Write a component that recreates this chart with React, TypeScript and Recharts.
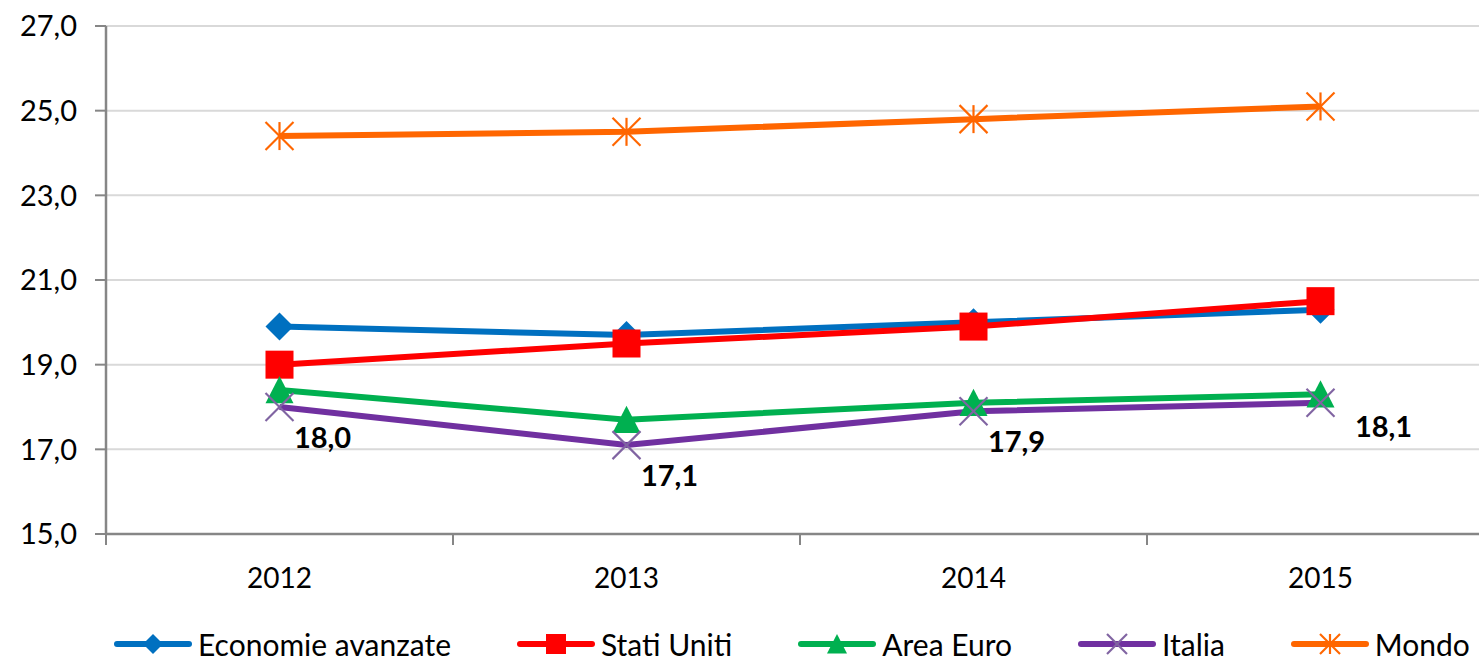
import { CartesianGrid, LabelList, Line, LineChart, XAxis, YAxis } from "recharts";

const years = ["2012", "2013", "2014", "2015"];
const economieAvanzate = [19.9, 19.7, 20.0, 20.3];
const statiUniti = [19.0, 19.5, 19.9, 20.5];
const areaEuro = [18.4, 17.7, 18.1, 18.3];
const italia = [18.0, 17.1, 17.9, 18.1];
const mondo = [24.4, 24.5, 24.8, 25.1];
const yTicks = [15, 17, 19, 21, 23, 25, 27];

type MarkerKind = "diamond" | "square" | "triangle" | "cross" | "star";

const seriesList: { key: string; name: string; values: number[]; color: string; markerColor: string; marker: MarkerKind }[] = [
  { key: "eco", name: "Economie avanzate", values: economieAvanzate, color: "#0070C0", markerColor: "#0070C0", marker: "diamond" },
  { key: "usa", name: "Stati Uniti", values: statiUniti, color: "#FF0000", markerColor: "#FF0000", marker: "square" },
  { key: "euro", name: "Area Euro", values: areaEuro, color: "#00B050", markerColor: "#00B050", marker: "triangle" },
  { key: "ita", name: "Italia", values: italia, color: "#7030A0", markerColor: "#8064A2", marker: "cross" },
  { key: "world", name: "Mondo", values: mondo, color: "#FF6600", markerColor: "#FF6600", marker: "star" }
];

const data = years.map((year, i) => {
  const row: Record<string, number | string> = { year, pos: i + 0.5 };
  seriesList.forEach((s) => {
    row[s.key] = s.values[i];
  });
  return row;
});

const FONT = "Lato, 'Open Sans', sans-serif";
const AXIS_GREY = "#868686";
const HALF_BAND = 347 / 2;

function fmt(v: number) {
  return v.toFixed(1).replace(".", ",");
}

function Marker({ kind, cx, cy, color, s }: { kind: MarkerKind; cx: number; cy: number; color: string; s: number }) {
  switch (kind) {
    case "diamond":
      return <polygon points={`${cx},${cy - s} ${cx + s},${cy} ${cx},${cy + s} ${cx - s},${cy}`} fill={color} />;
    case "square":
      return <rect x={cx - s} y={cy - s} width={s * 2} height={s * 2} fill={color} />;
    case "triangle":
      return <polygon points={`${cx},${cy - s} ${cx + s},${cy + s * 0.95} ${cx - s},${cy + s * 0.95}`} fill={color} />;
    case "cross":
      return (
        <g stroke={color} strokeWidth={2.2}>
          <line x1={cx - s} y1={cy - s} x2={cx + s} y2={cy + s} />
          <line x1={cx - s} y1={cy + s} x2={cx + s} y2={cy - s} />
        </g>
      );
    case "star":
      return (
        <g stroke={color} strokeWidth={2.2}>
          <line x1={cx - s} y1={cy - s} x2={cx + s} y2={cy + s} />
          <line x1={cx - s} y1={cy + s} x2={cx + s} y2={cy - s} />
          <line x1={cx} y1={cy - s} x2={cx} y2={cy + s} />
        </g>
      );
  }
}

function dotFor(kind: MarkerKind, color: string) {
  return (props: any) => {
    const { cx, cy, index } = props;
    if (cx == null || cy == null) return <g key={index} />;
    return (
      <g key={`${kind}-${index}`}>
        <Marker kind={kind} cx={cx} cy={cy} color={color} s={14} />
      </g>
    );
  };
}

function YearTick(props: any) {
  const { x, y, payload } = props;
  const label = years[payload.value];
  if (label === undefined) return <g />;
  return (
    <text x={x + HALF_BAND} y={y} dy={41} textAnchor="middle" fontSize={28} fontFamily={FONT} fill="#000">
      {label}
    </text>
  );
}

function ItaliaLabel(props: any) {
  const { x, y, value, index } = props;
  const last = index === years.length - 1;
  const dx = last ? 63 : 43;
  const dy = last ? 23 : 29;
  return (
    <text x={x + dx} y={y + dy} dominantBaseline="central" textAnchor="middle" fontSize={29} fontWeight="bold" fontFamily={FONT} fill="#000">
      {fmt(Number(value))}
    </text>
  );
}

export default function App() {
  return (
    <div style={{ position: "absolute", left: 0, top: 0, width: 1479, height: 662, overflow: "hidden", background: "#fff", fontFamily: FONT }}>
      <LineChart width={1500} height={662} data={data} margin={{ top: 26, right: 6, bottom: 0, left: 0 }}>
        <CartesianGrid vertical={false} stroke="#D9D9D9" strokeWidth={2} />
        <XAxis
          dataKey="pos"
          type="number"
          domain={[0, 4]}
          ticks={[0, 1, 2, 3, 4]}
          height={128}
          tickSize={11}
          axisLine={{ stroke: AXIS_GREY, strokeWidth: 2.5 }}
          tickLine={{ stroke: AXIS_GREY, strokeWidth: 2 }}
          tick={<YearTick />}
          interval={0}
        />
        <YAxis
          domain={[15, 27]}
          ticks={yTicks}
          width={106}
          tickSize={11}
          tickMargin={18}
          tickFormatter={fmt}
          axisLine={{ stroke: AXIS_GREY, strokeWidth: 2.5 }}
          tickLine={{ stroke: AXIS_GREY, strokeWidth: 2 }}
          tick={{ fontSize: 29, fontFamily: FONT, fill: "#000" }}
          interval={0}
        />
        {seriesList.map((s) => (
          <Line
            key={s.key}
            type="linear"
            dataKey={s.key}
            name={s.name}
            stroke={s.color}
            strokeWidth={6}
            dot={dotFor(s.marker, s.markerColor)}
            activeDot={false}
            isAnimationActive={false}
          >
            {s.key === "ita" ? <LabelList dataKey="ita" content={<ItaliaLabel />} /> : null}
          </Line>
        ))}
      </LineChart>
      <div style={{ position: "absolute", left: 114, top: 630, display: "flex", alignItems: "center", gap: 66, whiteSpace: "nowrap" }}>
        {seriesList.map((s) => (
          <div key={s.key} style={{ display: "flex", alignItems: "center", height: 28 }}>
            <svg width={78} height={28} style={{ marginRight: 6 }}>
              <line x1={3} y1={14} x2={75} y2={14} stroke={s.color} strokeWidth={6} strokeLinecap="round" />
              <Marker kind={s.marker} cx={39} cy={14} color={s.markerColor} s={10} />
            </svg>
            <span style={{ fontSize: 30, lineHeight: "28px", color: "#000" }}>{s.name}</span>
          </div>
        ))}
      </div>
    </div>
  );
}
